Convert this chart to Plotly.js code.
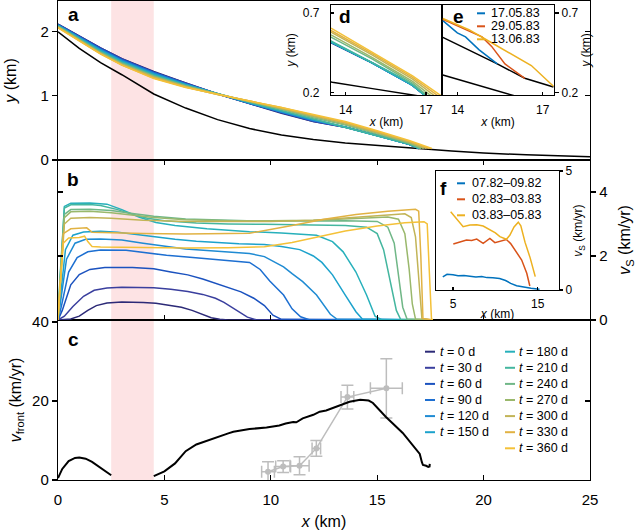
<!DOCTYPE html>
<html><head><meta charset="utf-8">
<script src="https://cdn.plot.ly/plotly-3.0.1.min.js"></script>
<style>html,body{margin:0;padding:0;background:#fff}#chart{width:638px;height:530px}</style>
</head><body><div id="chart"></div>
<script>
// ---------------- DATA ----------------
const times = [0,30,60,90,120,150,180,210,240,270,300,330,360];
const lineColors = ['#2c2a77','#3a3f9e','#1b52bf','#1d6fd1','#1f8bd3','#1ca2cc','#27b0bb','#44b69f','#70b787','#9ab86c','#c2b457','#e1b243','#f4c138'];

// panel a: bed and surface profiles
const bedX = [0,1,2,3,4.5,6,7.5,9,10.5,12,13.5,15,16,17,18.5,20,22,25];
const bedY = [2.0,1.74,1.52,1.33,1.03,0.81,0.63,0.49,0.39,0.32,0.265,0.225,0.198,0.172,0.14,0.11,0.08,0.05];
const surfX = [0,1,2,3,4.5,6,7.5,9,10.5,12,13.5,15,16,16.5];
const surf0   = [2.12,1.93,1.75,1.58,1.38,1.20,1.03,0.88,0.73,0.60,0.51,0.385,0.295,0.245];
const surf30  = [2.12,1.93,1.75,1.58,1.37,1.20,1.03,0.88,0.74,0.60,0.51,0.385,0.295,0.245];
const surf60  = [2.11,1.92,1.74,1.57,1.37,1.19,1.03,0.88,0.74,0.61,0.513,0.385,0.295,0.245];
const surf90  = [2.11,1.92,1.73,1.56,1.36,1.19,1.03,0.89,0.75,0.61,0.513,0.385,0.295,0.245];
const surf120 = [2.10,1.91,1.72,1.55,1.35,1.18,1.03,0.89,0.75,0.62,0.515,0.385,0.295,0.245];
const surf150 = [2.10,1.90,1.71,1.54,1.34,1.18,1.03,0.89,0.76,0.63,0.515,0.385,0.295,0.245];
const surf180 = [2.09,1.89,1.70,1.53,1.33,1.17,1.03,0.90,0.77,0.64,0.515,0.385,0.295,0.245];
const surf210 = [2.09,1.89,1.69,1.52,1.32,1.16,1.03,0.90,0.78,0.65,0.52,0.39,0.30,0.25];
const surf240 = [2.08,1.88,1.68,1.51,1.31,1.16,1.03,0.91,0.79,0.66,0.544,0.41,0.31,0.26];
const surf270 = [2.08,1.87,1.67,1.50,1.30,1.15,1.03,0.91,0.80,0.67,0.558,0.42,0.32,0.27];
const surf300 = [2.07,1.87,1.66,1.49,1.29,1.14,1.02,0.92,0.81,0.69,0.575,0.435,0.335,0.285];
const surf330 = [2.07,1.86,1.66,1.48,1.28,1.14,1.02,0.92,0.82,0.70,0.585,0.445,0.345,0.295];
const surf360 = [2.06,1.86,1.65,1.48,1.27,1.13,1.02,0.92,0.82,0.71,0.60,0.455,0.355,0.305];
const surfEndX = [16.98,16.98,16.98,16.98,16.98,16.98,16.98,17.0,17.06,17.19,17.32,17.45,17.57];
const surfEndY = [0.18,0.18,0.18,0.18,0.18,0.18,0.18,0.18,0.18,0.18,0.18,0.18,0.18];

// panel b: sliding velocity profiles
const vsX0 = [0,0.6,1.0,1.4,1.8,2.3,3.0,4.0,4.6,5.2,5.8,6.3,6.8,7.2,7.6,8.0,17.6];
const vsV0 = [0,0.03,0.12,0.3,0.45,0.53,0.56,0.55,0.52,0.47,0.4,0.3,0.17,0.07,0.02,0,0];
const vsX30 = [0,0.3,0.7,1.2,1.7,2.3,3.0,4.5,5.3,6.1,6.8,7.4,7.8,8.2,8.6,8.9,9.3,17.6];
const vsV30 = [0,0.12,0.42,0.74,0.93,1.0,1.02,1.01,0.96,0.89,0.8,0.68,0.55,0.38,0.2,0.09,0.01,0];
const vsX60 = [0,0.2,0.6,1.0,1.5,2.2,3.5,4.5,5.3,6.1,6.8,7.4,8.0,8.6,9.2,9.7,10.1,10.5,17.6];
const vsV60 = [0,0.3,1.1,1.42,1.58,1.64,1.64,1.6,1.5,1.41,1.28,1.14,1.02,0.88,0.68,0.45,0.15,0.02,0];
const vsX90 = [0,0.15,0.5,0.9,1.4,2.0,3.2,4.2,5.1,6.2,7.2,8.1,9.0,9.5,9.95,10.6,11.0,11.4,11.8,17.6];
const vsV90 = [0,0.4,1.5,1.95,2.13,2.19,2.18,2.1,2.02,1.96,1.9,1.86,1.8,1.58,1.22,0.78,0.35,0.1,0.01,0];
const vsX120 = [0,0.1,0.4,0.8,1.3,2.0,3.0,4.0,5.0,6.0,7.0,8.0,9.0,9.7,10.6,11.0,11.5,12.15,12.5,12.8,13.1,17.6];
const vsV120 = [0,0.5,1.9,2.4,2.52,2.53,2.5,2.4,2.3,2.22,2.17,2.12,2.08,1.98,1.66,1.45,1.2,0.78,0.45,0.18,0.03,0];
const vsX150 = [0,0.1,0.35,0.7,1.2,2.0,2.8,3.6,4.5,5.5,6.5,7.5,8.5,9.7,10.5,11.36,12.0,12.4,12.9,13.5,14.0,14.3,17.6];
const vsV150 = [0,0.6,2.2,2.65,2.75,2.77,2.74,2.68,2.6,2.52,2.46,2.42,2.38,2.36,2.3,2.2,2.0,1.8,1.41,0.78,0.26,0.03,0];
const vsX180 = [0,0.12,0.3,0.6,1.5,2.3,3.0,3.8,4.6,5.5,7.0,9.0,10.5,12.15,12.9,13.4,14.0,14.5,14.9,15.2,17.6];
const vsV180 = [0,1.5,3.55,3.65,3.66,3.62,3.45,3.22,3.05,2.95,2.85,2.76,2.72,2.65,2.45,2.13,1.5,0.78,0.12,0.01,0];
const vsX210 = [0,0.1,0.3,0.6,1.5,2.0,2.8,3.5,4.2,5.0,6.5,8.0,9.7,11.0,12.3,13.5,14.5,15.0,15.3,15.6,15.9,16.1,17.6];
const vsV210 = [0,1.4,3.5,3.6,3.61,3.58,3.45,3.3,3.18,3.1,3.03,3.0,2.99,2.98,2.97,2.95,2.9,2.7,2.2,1.2,0.3,0.02,0];
const vsX240 = [0,0.1,0.3,0.6,1.5,2.5,3.5,4.5,6.0,8.0,9.7,11.5,13.5,15.0,15.5,15.8,16.0,16.2,16.4,17.6];
const vsV240 = [0,1.3,3.3,3.45,3.46,3.42,3.33,3.24,3.16,3.11,3.09,3.09,3.1,3.08,2.9,2.4,1.4,0.4,0.03,0];
const vsX270 = [0,0.1,0.3,0.6,1.5,2.5,3.5,4.5,6.0,8.0,10,12,14,15.5,16.0,16.3,16.5,16.65,16.8,17.6];
const vsV270 = [0,1.2,3.2,3.38,3.4,3.35,3.27,3.2,3.13,3.1,3.1,3.12,3.17,3.22,3.15,2.7,1.6,0.5,0.03,0];
const vsX300 = [0,0.1,0.3,0.6,1.5,2.5,4.0,6.0,8.0,10,12,14,15.5,16.3,16.6,16.8,16.95,17.1,17.6];
const vsV300 = [0,1.1,3.0,3.18,3.2,3.18,3.12,3.08,3.07,3.08,3.12,3.2,3.28,3.32,3.2,2.6,1.2,0.05,0];
const vsX330 = [0,0.08,0.25,0.6,1.2,1.35,1.6,2.5,4,6,8,9.0,11,12.5,14,15.5,16.8,16.95,17.05,17.15,17.6];
const vsV330 = [0,1.0,2.7,2.85,2.86,2.88,2.74,2.72,2.7,2.69,2.69,2.71,2.95,3.15,3.3,3.4,3.46,3.4,2.0,0.05,0];
const vsX360 = [0,0.08,0.25,0.5,1.0,1.25,1.4,1.6,2.0,4,6,8,9.7,11,12.3,13.5,15,16.3,17.2,17.35,17.45,17.55,17.6];
const vsV360 = [0,0.9,2.4,2.56,2.58,2.62,2.45,2.3,2.28,2.26,2.25,2.26,2.29,2.42,2.6,2.78,2.94,3.04,3.07,3.0,1.5,0.05,0];

// panel c: front velocity (model) and observations
const vfX1 = [0,0.2,0.5,0.8,1.0,1.3,1.6,1.9,2.2,2.5];
const vf1  = [0.5,2.8,4.8,5.6,5.7,5.4,4.6,3.4,2.2,1.2];
const vfX2 = [4.5,5.0,5.5,6.0,6.5,7.0,7.3,8.0,8.24,9.0,9.8,10.4,10.7,11.05,11.2,11.5,12.0,12.3,12.6,13.2,13.7,14.2,14.6,14.8,15.4,16.2,16.84,17.0,17.1,17.15,17.3,17.4,17.46,17.47];
const vf2  = [1.0,2.2,4.2,7.3,9.0,10.0,10.5,11.8,12.2,12.9,13.3,13.8,14.3,14.7,14.6,15.6,16.5,17.3,17.6,18.7,19.8,20.3,20.1,19.5,16.0,11.9,7.6,6.6,4.5,3.8,3.6,3.3,3.4,4.1];
const obsX = [9.87,10.58,11.35,12.14,13.6,15.43];
const obsY = [2.1,3.4,3.6,8.0,21.0,23.2];
const obsXerr = [0.3,0.35,0.45,0.2,0.3,0.75];
const obsYerr = [2.5,1.5,2.3,2.0,3.0,7.5];

// inset e: observed profiles
const eDates = ['17.05.83','29.05.83','13.06.83'];
const eBlueX = [13.48,13.99,14.28,14.75,15.4];
const eBlueY = [0.652,0.575,0.55,0.47,0.38];
const eRedX = [13.48,14.28,14.86,15.2,15.67,16.37];
const eRedY = [0.66,0.595,0.55,0.49,0.38,0.29];
const eYelX = [13.48,14.4,15.2,15.9,16.6,17.38];
const eYelY = [0.665,0.595,0.513,0.44,0.37,0.24];
const eBlackX = [13.48,14.63,15.4,16.37,17.38];
const eBlackY = [0.547,0.45,0.38,0.29,0.235];
const eBedX = [13.48,14.63,15.74,16.2];
const eBedY = [0.31,0.25,0.19,0.17];

// inset f: observed sliding velocities
const fPeriods = ['07.82\u201309.82','02.83\u201303.83','03.83\u201305.83'];
const fBlueX = [3.8,4.3,5.0,5.6,6.3,7.0,7.7,8.4,9.0,9.7,10.5,11.2,11.8,12.5,13.3,14.2,15.2];
const fBlueV = [0.55,0.66,0.64,0.6,0.61,0.58,0.55,0.57,0.52,0.51,0.48,0.4,0.28,0.18,0.12,0.07,0.03];
const fRedX = [5.04,5.8,6.6,7.2,7.8,8.56,9.35,9.94,10.7,11.3,11.8,12.3,13.1,13.7,14.06];
const fRedV = [1.93,2.02,2.1,2.08,2.14,1.96,2.17,1.99,2.07,2.12,1.95,1.68,1.26,0.7,0.17];
const fYelX = [4.73,5.3,5.8,6.2,7.0,7.8,8.56,9.35,10.0,10.53,11.3,11.7,12.2,12.7,13.0,13.5,14.1,14.7];
const fYelV = [3.29,3.05,2.87,2.66,2.73,2.74,2.69,2.52,2.4,2.24,2.13,2.3,2.65,2.85,2.7,2.0,1.35,0.56];

const bandX = [2.5, 4.5];
const obsColors = ['#0072BD','#D95319','#EDB120'];

// ---------------- LAYOUT HELPERS ----------------
const FONT = 'Liberation Sans, Arial, Helvetica, sans-serif';
const W = 638, H = 530, ML = 58, MR = 48, MT = 1, MB = 50;
const PW = W - ML - MR, PH = H - MT - MB;
const px2x = px => (px - ML) / PW;
const py2y = py => (H - MB - py) / PH;

const surfs = [surf0,surf30,surf60,surf90,surf120,surf150,surf180,surf210,surf240,surf270,surf300,surf330,surf360];
const vsXs = [vsX0,vsX30,vsX60,vsX90,vsX120,vsX150,vsX180,vsX210,vsX240,vsX270,vsX300,vsX330,vsX360];
const vsVs = [vsV0,vsV30,vsV60,vsV90,vsV120,vsV150,vsV180,vsV210,vsV240,vsV270,vsV300,vsV330,vsV360];

const traces = [];
function line(x, y, xa, ya, color, width) {
  return {x: x, y: y, xaxis: xa, yaxis: ya, mode: 'lines', type: 'scatter',
          line: {color: color, width: width || 1.5}, hoverinfo: 'skip', showlegend: false};
}
// panel a
traces.push(line(bedX, bedY, 'x4', 'y4', '#000', 1.5));
surfs.forEach((s, i) => traces.push(line(surfX.concat([surfEndX[i]]), s.concat([surfEndY[i]]), 'x4', 'y4', lineColors[i])));
// inset d
traces.push(line(bedX, bedY, 'x7', 'y7', '#000', 1.5));
surfs.forEach((s, i) => traces.push(line(surfX.concat([surfEndX[i]]), s.concat([surfEndY[i]]), 'x7', 'y7', lineColors[i])));
// inset e
traces.push(line(eBlackX, eBlackY, 'x8', 'y8', '#000', 1.5));
traces.push(line(eBedX, eBedY, 'x8', 'y8', '#000', 1.5));
traces.push(line(eBlueX, eBlueY, 'x8', 'y8', obsColors[0]));
traces.push(line(eRedX, eRedY, 'x8', 'y8', obsColors[1]));
traces.push(line(eYelX, eYelY, 'x8', 'y8', obsColors[2]));
// panel b
vsXs.forEach((xs, i) => traces.push(line(xs, vsVs[i], 'x2', 'y2', lineColors[i])));
// inset f
traces.push(line(fBlueX, fBlueV, 'x9', 'y9', obsColors[0]));
traces.push(line(fRedX, fRedV, 'x9', 'y9', obsColors[1]));
traces.push(line(fYelX, fYelV, 'x9', 'y9', obsColors[2]));
// panel c
traces.push({x: obsX, y: obsY, xaxis: 'x', yaxis: 'y', type: 'scatter', mode: 'lines+markers',
  line: {color: '#bdbdbd', width: 1.5}, marker: {color: '#bdbdbd', size: 6},
  error_x: {type: 'data', array: obsXerr, color: '#bdbdbd', thickness: 1.5, width: 6},
  error_y: {type: 'data', array: obsYerr, color: '#bdbdbd', thickness: 1.5, width: 6},
  hoverinfo: 'skip', showlegend: false});
traces.push(line(vfX1, vf1, 'x', 'y', '#000', 2));
traces.push(line(vfX2, vf2, 'x', 'y', '#000', 2));
// empty traces that carry the mirrored tick axes
[['x4','y5'],['x2','y10'],['x','y6']].forEach(p => traces.push({x: [null], y: [null], xaxis: p[0], yaxis: p[1], type: 'scatter', mode: 'lines', hoverinfo: 'skip', showlegend: false}));

const axBase = {showline: true, linecolor: '#000', linewidth: 1.2, mirror: true, ticks: 'outside',
  ticklen: 5, tickwidth: 1.2, tickcolor: '#000', showgrid: false, zeroline: false,
  tickfont: {family: FONT, size: 15, color: '#000'}, fixedrange: true};
const insetAx = Object.assign({}, axBase, {ticklen: 3, tickfont: {family: FONT, size: 12, color: '#000'}});
const mirrorAx = (over, side, range, vals, anchor) => ({overlaying: over, side: side, anchor: anchor, range: range,
  tickvals: vals, ticks: 'inside', ticklen: 5, tickwidth: 1.2, tickcolor: '#000', showticklabels: false,
  showline: false, showgrid: false, zeroline: false, fixedrange: true});
const tfont = s => ({family: FONT, size: s, color: '#000'});

const dA = [py2y(160), 1], dB = [py2y(320), py2y(160)], dC = [0, py2y(320)];
const nb = '\u00a0';

const layout = {
  width: W, height: H, margin: {l: ML, r: MR, t: MT, b: MB, pad: 0},
  paper_bgcolor: '#fff', plot_bgcolor: 'rgba(0,0,0,0)', showlegend: false,
  font: tfont(15),
  // panel c
  xaxis: Object.assign({}, axBase, {domain: [0, 1], anchor: 'y', range: [0, 25], tickvals: [0,5,10,15,20,25],
    ticks: 'inside', ticklabelstandoff: 6, title: {text: '<i>x</i> (km)', font: tfont(16), standoff: 8}}),
  yaxis: Object.assign({}, axBase, {domain: dC, anchor: 'x', range: [0, 40.5], tickvals: [0, 20, 40],
    title: {text: '<i>v</i><sub>front</sub> (km/yr)', font: tfont(16), standoff: 6}}),
  yaxis6: mirrorAx('y', 'right', [0, 40.5], [20], 'x'),
  // panel b
  xaxis2: Object.assign({}, axBase, {domain: [0, 1], anchor: 'y2', range: [0, 25], tickvals: [5,10,15,20],
    ticks: 'inside', mirror: 'ticks', showticklabels: false}),
  yaxis2: Object.assign({}, axBase, {domain: dB, anchor: 'x2', side: 'right', range: [0, 5], tickvals: [0, 2, 4],
    title: {text: '<i>v</i><sub>S</sub> (km/yr)' + nb.repeat(6), font: tfont(16), standoff: 12}}),
  yaxis10: mirrorAx('y2', 'left', [0, 5], [2, 4], 'x2'),
  // panel a
  xaxis4: Object.assign({}, axBase, {domain: [0, 1], anchor: 'y4', range: [0, 25], ticks: '', showticklabels: false}),
  yaxis4: Object.assign({}, axBase, {domain: dA, anchor: 'x4', range: [0, 2.48], tickvals: [0, 1, 2],
    title: {text: '<i>y</i> (km)', font: tfont(16)}}),
  yaxis5: mirrorAx('y4', 'right', [0, 2.48], [1, 2], 'x4'),
  // inset d
  xaxis7: Object.assign({}, insetAx, {domain: [px2x(331), px2x(442)], anchor: 'y7', range: [13.45, 17.6],
    tickvals: [14, 17], ticks: 'inside', ticklabelstandoff: 3, title: {text: '<i>x</i> (km)', font: tfont(12), standoff: 2}}),
  yaxis7: Object.assign({}, insetAx, {domain: [py2y(95), py2y(5)], anchor: 'x7', range: [0.185, 0.75],
    tickvals: [0.2, 0.7], ticks: 'inside', ticklabelstandoff: 8, title: {text: '<i>y</i> (km)', font: tfont(12), standoff: 4}}),
  // inset e
  xaxis8: Object.assign({}, insetAx, {domain: [px2x(442), px2x(554)], anchor: 'y8', range: [13.45, 17.4],
    tickvals: [14, 17], ticks: 'inside', ticklabelstandoff: 3, title: {text: '<i>x</i> (km)', font: tfont(12), standoff: 2}}),
  yaxis8: Object.assign({}, insetAx, {domain: [py2y(95), py2y(5)], anchor: 'x8', side: 'right', range: [0.185, 0.75],
    tickvals: [0.2, 0.7], ticks: 'outside', ticklen: 4, title: {text: '<i>y</i> (km)', font: tfont(12), standoff: 4}}),
  // inset f
  xaxis9: Object.assign({}, insetAx, {domain: [px2x(436), px2x(559)], anchor: 'y9', range: [3, 17.5],
    tickvals: [5, 15], ticks: 'inside', ticklabelstandoff: 2, title: {text: '<i>x</i> (km)', font: tfont(12), standoff: 0}}),
  yaxis9: Object.assign({}, insetAx, {domain: [py2y(290), py2y(171)], anchor: 'x9', side: 'right', range: [0, 5],
    tickvals: [0, 5], ticks: 'outside', ticklen: 3, title: {text: '<i>v</i><sub>S</sub> (km/yr)', font: tfont(12), standoff: 2}}),
  shapes: [{type: 'rect', xref: 'x', yref: 'paper', x0: bandX[0], x1: bandX[1], y0: 0, y1: 1,
            fillcolor: '#fde3e4', line: {width: 0}, layer: 'below'}],
  annotations: []
};

function label(txt, px, py, size) {
  layout.annotations.push({text: '<b>' + txt + '</b>', xref: 'paper', yref: 'paper', x: px2x(px), y: py2y(py),
    xanchor: 'center', yanchor: 'middle', showarrow: false, font: {family: FONT, size: size || 19, color: '#000'}});
}
label('a', 73, 15); label('b', 73, 179); label('c', 73, 339);
label('d', 345, 17); label('e', 458, 17); label('f', 443, 188);

function legendEntry(txt, color, dashL, dashR, textX, py, size) {
  layout.shapes.push({type: 'line', xref: 'paper', yref: 'paper', x0: px2x(dashL), x1: px2x(dashR),
    y0: py2y(py), y1: py2y(py), line: {color: color, width: 2}});
  layout.annotations.push({text: txt, xref: 'paper', yref: 'paper', x: px2x(textX), y: py2y(py),
    xanchor: 'left', yanchor: 'middle', showarrow: false, borderpad: 0, font: {family: FONT, size: size, color: '#000'}});
}
times.forEach((t, i) => {
  const col = i < 6 ? 0 : 1, row = i < 6 ? i : i - 6;
  legendEntry('<i>t</i> = ' + t + ' d', lineColors[i], col ? 505 : 425, col ? 515 : 435, col ? 518 : 439,
              351.7 + 16.1 * row, 12.5);
});
eDates.forEach((d, i) => legendEntry(d, obsColors[i], 477, 485, 490, 13.3 + 13 * i, 12.5));
fPeriods.forEach((d, i) => legendEntry(d, obsColors[i], 457, 465, 471, 183.3 + 16 * i, 12.5));

Plotly.newPlot('chart', traces, layout, {displayModeBar: false, staticPlot: true});
</script></body></html>
